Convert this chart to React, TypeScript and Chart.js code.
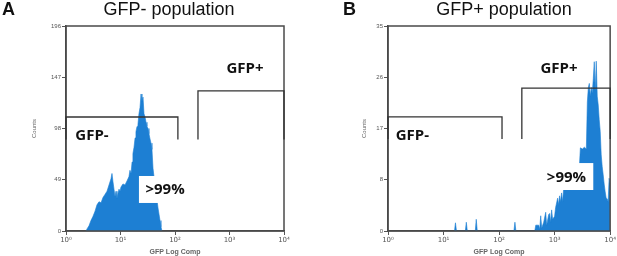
import React, { useEffect, useRef } from "react";
import { Chart, registerables } from "chart.js";
Chart.register(...registerables);

// ---------- data ----------
const xTicks = [1, 10, 100, 1000, 10000];
const xTickLabels = ["10⁰", "10¹", "10²", "10³", "10⁴"];

const negYTicks = [0, 49, 98, 147, 196];
const negYLabels = ["0", "49", "98", "147", "196"];
const posYTicks = [0, 8.75, 17.5, 26.25, 35];
const posYLabels = ["0", "8", "17", "26", "35"];

// GFP- population histogram (GFP intensity, counts)
const negGfp = [2.33, 2.43, 2.64, 2.87, 3.13, 3.41, 3.7, 4.03, 4.39, 4.77, 5.19, 5.65, 6.15, 6.69,
  6.98, 7.28, 7.6, 7.93, 8.27, 8.62, 8.99, 9.38, 9.79, 10.2, 11.1, 12.1, 13.2, 14.3,
  14.9, 15.6, 16.3, 16.9, 17.7, 18.5, 19.2, 20.1, 20.9, 21.8, 22.8, 23.8, 24.8, 25.9, 27.0, 28.2,
  29.4, 30.6, 32.0, 33.3, 34.8, 36.3, 37.8, 39.5, 41.2, 43.0, 44.8, 46.7, 48.8, 50.9, 53.1, 55.3, 57.7];
const negCounts = [0, 2, 5, 10, 14, 19, 25, 28, 27, 32, 35, 38, 44, 50,
  55, 47, 40, 33, 38, 31, 36, 40, 38, 42, 45, 44, 48, 52,
  58, 55, 66, 74, 80, 89, 95, 100, 102, 112, 118, 131, 124, 128, 112, 109,
  104, 100, 98, 93, 88, 84, 78, 60, 52, 44, 38, 30, 22, 16, 10, 4, 0];

// GFP+ population histogram
const posGfp = [15.7, 16.4, 17.1, 24.7, 25.7, 26.8, 37.3, 38.8, 40.5, 185, 193, 201,
  439, 458, 518, 540, 562, 586, 636, 691, 720, 782, 815, 849, 884, 921,
  1000, 1042, 1132, 1179, 1228, 1279, 1334, 1389, 1448, 1572, 1707, 1853, 2012, 2185, 2371, 2575, 2795, 2912,
  3162, 3434, 3728, 3885, 4048, 4217, 4394, 4578, 4771, 4971, 5179, 5396, 5623, 5859, 6105, 6361, 6628, 6906,
  7196, 7498, 7812, 8140, 8482, 8838, 9208, 9594, 10000];
const posCounts = [0, 1.4, 0, 0, 1.5, 0, 0, 2.0, 0, 0, 1.5, 0,
  0, 1.0, 1.0, 0.3, 2.6, 0.5, 1.5, 3.2, 1, 2.8, 3.0, 1.5, 3.6, 2,
  2.5, 4, 5.6, 4.5, 6, 5, 6.5, 5, 7, 7.5, 8, 7.5, 8.5, 9, 9.5, 10, 11, 14.2,
  14, 14.3, 14, 22, 24.5, 25.2, 23, 24.5, 23.5, 26, 28.9, 24, 29, 23, 21.5, 19, 17, 13,
  11, 9.6, 8, 6.7, 5.6, 5.5, 5, 9, 8];

// gates: [xStart, xEnd, yTop, yBottom] in data units
const negGates = [[1, 113, 109, 87.5], [264, 10000, 134, 87.5]];
const posGates = [[1, 113, 19.5, 15.7], [257, 10000, 24.4, 15.7]];

// labels: [text, x, y]
const negLabels: [string, number, number][] = [["GFP+", 1923, 155], ["GFP-", 3.0, 91.3]];
const posLabels: [string, number, number][] = [["GFP+", 1202, 27.7], ["GFP-", 2.74, 16.3]];

// percent boxes: [x1, x2, yTop, yBottom, textX, textY]
const negBox = [21.8, 158, 52.6, 26.8, 65.6, 39.7];
const posBox = [720, 4971, 11.6, 7.0, 1637, 9.1];
const pctText = ">99%";

const BLUE = "#1d7fd3";

function overlayPlugin(gates: number[][], labels: [string, number, number][], box: number[]) {
  return {
    id: "overlay",
    afterDatasetsDraw(chart: any) {
      const { ctx, chartArea: a, scales } = chart;
      const x = scales.x, y = scales.y;
      ctx.save();
      const bx1 = x.getPixelForValue(box[0]), bx2 = x.getPixelForValue(box[1]);
      const by1 = y.getPixelForValue(box[2]), by2 = y.getPixelForValue(box[3]);
      ctx.fillStyle = "#ffffff";
      ctx.fillRect(bx1, by1, bx2 - bx1, by2 - by1);
      ctx.strokeStyle = "#4a4a4a";
      ctx.lineWidth = 1.5;
      ctx.strokeRect(a.left, a.top, a.right - a.left, a.bottom - a.top);
      ctx.strokeStyle = "#333";
      ctx.lineWidth = 1.3;
      for (const g of gates) {
        const x1 = x.getPixelForValue(g[0]), x2 = x.getPixelForValue(g[1]);
        const yt = y.getPixelForValue(g[2]), yb = y.getPixelForValue(g[3]);
        ctx.beginPath();
        ctx.moveTo(x1, yb);
        ctx.lineTo(x1, yt);
        ctx.lineTo(x2, yt);
        ctx.lineTo(x2, yb);
        ctx.stroke();
      }
      ctx.fillStyle = "#111";
      ctx.font = "bold 15px 'Open Sans'";
      ctx.textAlign = "center";
      ctx.textBaseline = "middle";
      for (const [t, lx, ly] of labels) {
        ctx.fillText(t, x.getPixelForValue(lx), y.getPixelForValue(ly));
      }
      ctx.fillText(pctText, x.getPixelForValue(box[4]), y.getPixelForValue(box[5]));
      ctx.restore();
    },
  };
}

type PanelProps = {
  left: number;
  width: number;
  padLeft: number;
  padRight: number;
  yWidth: number;
  yMax: number;
  yTicks: number[];
  yLabels: string[];
  gfp: number[];
  counts: number[];
  gates: number[][];
  labels: [string, number, number][];
  box: number[];
};

function Panel(p: PanelProps) {
  const ref = useRef<HTMLCanvasElement | null>(null);
  useEffect(() => {
    if (!ref.current) return;
    const chart = new Chart(ref.current, {
      type: "line",
      data: {
        datasets: [
          {
            data: p.gfp.map((v, i) => ({ x: v, y: p.counts[i] })),
            fill: "origin",
            backgroundColor: BLUE,
            borderColor: BLUE,
            borderWidth: 0.6,
            pointRadius: 0,
            tension: 0,
          },
        ],
      },
      options: {
        animation: false,
        responsive: false,
        devicePixelRatio: 1,
        layout: { padding: { left: p.padLeft, right: p.padRight, top: 26, bottom: 0 } },
        plugins: { legend: { display: false }, tooltip: { enabled: false }, title: { display: false } },
        scales: {
          x: {
            type: "logarithmic",
            min: 1,
            max: 10000,
            afterBuildTicks: (s: any) => {
              s.ticks = xTicks.map((v) => ({ value: v }));
            },
            afterFit: (s: any) => {
              s.height = 25;
            },
            ticks: {
              callback: (_v: any, i: number) => xTickLabels[i],
              font: { size: 7, family: "'DejaVu Sans'" },
              color: "#555",
              padding: 1,
              maxRotation: 0,
              autoSkip: false,
            },
            grid: { drawOnChartArea: false, drawTicks: true, tickLength: 4, color: "#555", lineWidth: 1 },
            border: { display: true, color: "#4a4a4a", width: 1.5 },
            title: {
              display: true,
              text: "GFP Log Comp",
              font: { size: 7, weight: "bold", family: "'Liberation Sans', Arial" },
              color: "#666",
              padding: 0,
            },
          },
          y: {
            type: "linear",
            min: 0,
            max: p.yMax,
            afterBuildTicks: (s: any) => {
              s.ticks = p.yTicks.map((v) => ({ value: v }));
            },
            afterFit: (s: any) => {
              s.width = p.yWidth;
            },
            ticks: {
              callback: (_v: any, i: number) => p.yLabels[i],
              font: { size: 6, family: "'Liberation Sans', Arial" },
              color: "#555",
              padding: 1,
              autoSkip: false,
            },
            grid: { drawOnChartArea: false, drawTicks: true, tickLength: 4, color: "#555", lineWidth: 1 },
            border: { display: true, color: "#4a4a4a", width: 1.5 },
            title: {
              display: true,
              text: "Counts",
              font: { size: 6, family: "'Liberation Sans', Arial" },
              color: "#666",
              padding: 0,
            },
          },
        },
      },
      plugins: [overlayPlugin(p.gates, p.labels, p.box)],
    } as any);
    return () => chart.destroy();
  }, []);
  return (
    <canvas
      ref={ref}
      width={p.width}
      height={256}
      style={{ position: "absolute", left: p.left, top: 0, width: p.width, height: 256 }}
    />
  );
}

const titleStyle: React.CSSProperties = {
  position: "absolute",
  top: 0,
  fontFamily: "'Liberation Sans', Arial, sans-serif",
  fontSize: 18,
  lineHeight: "18px",
  color: "#111",
  whiteSpace: "nowrap",
};

export default function App() {
  return (
    <div style={{ position: "fixed", left: 0, top: 0, width: 617, height: 256, background: "#fff", overflow: "hidden" }}>
      <Panel
        left={0}
        width={310}
        padLeft={31}
        padRight={26}
        yWidth={35}
        yMax={196}
        yTicks={negYTicks}
        yLabels={negYLabels}
        gfp={negGfp}
        counts={negCounts}
        gates={negGates}
        labels={negLabels}
        box={negBox}
      />
      <Panel
        left={310}
        width={307}
        padLeft={51}
        padRight={5}
        yWidth={27}
        yMax={35}
        yTicks={posYTicks}
        yLabels={posYLabels}
        gfp={posGfp}
        counts={posCounts}
        gates={posGates}
        labels={posLabels}
        box={posBox}
      />
      <div style={{ ...titleStyle, left: 2, fontWeight: "bold" }}>A</div>
      <div style={{ ...titleStyle, left: 169, transform: "translateX(-50%)" }}>GFP- population</div>
      <div style={{ ...titleStyle, left: 343, fontWeight: "bold" }}>B</div>
      <div style={{ ...titleStyle, left: 504, transform: "translateX(-50%)" }}>GFP+ population</div>
    </div>
  );
}
